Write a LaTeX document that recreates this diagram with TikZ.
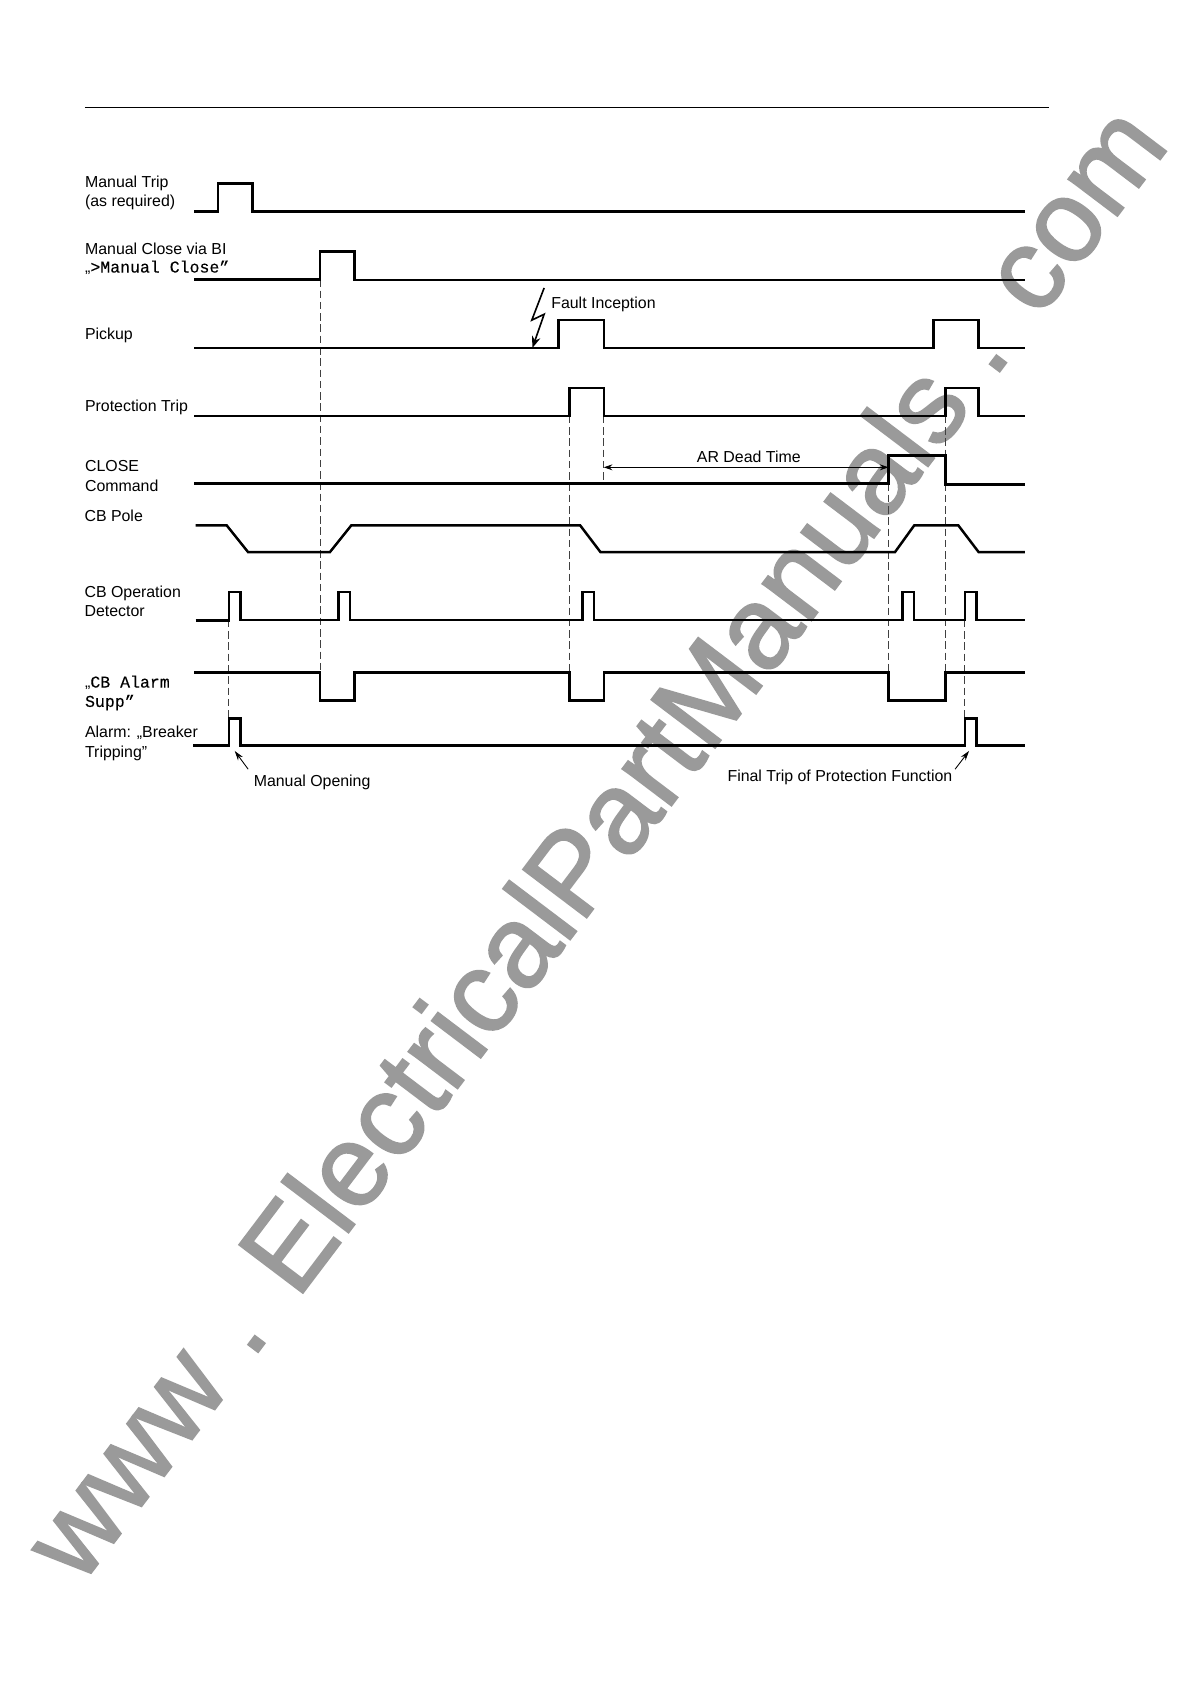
\documentclass[tikz,border=0pt]{standalone}
\usepackage{fontspec}
\setmainfont{Liberation Sans}
\setmonofont[Scale=1.04,FakeBold=0.15]{Liberation Mono}
\newfontfamily\wmfont[FakeBold=1.6]{Liberation Sans}
\usetikzlibrary{arrows.meta}
\definecolor{wmgray}{HTML}{9A9A9A}
\tikzset{
  x=1pt,y=-1pt,
  trace/.style={line width=2.3pt,line join=miter,black},
  guide/.style={line width=0.9pt,dash pattern=on 7pt off 3.5pt,black!75},
  lab/.style={anchor=west,inner sep=0pt,align=left,font=\fontsize{14.8}{18}\selectfont},
  note/.style={inner sep=0pt,font=\fontsize{14.8}{18}\selectfont},
  lead/.style={line width=0.8pt,-{Stealth[length=9pt,width=5.5pt]}},
  span/.style={line width=0.8pt,{Stealth[length=8pt,width=5.5pt]}-{Stealth[length=8pt,width=5.5pt]}},
  watermark/.style={rotate=52.9,anchor=base west,inner sep=0pt,text=wmgray,font=\wmfont\fontsize{108}{108}\selectfont}
}
\begin{document}
\begin{tikzpicture}
\useasboundingbox (0,0) rectangle (1108,1567.5);
\fill[white] (0,0) rectangle (1108,1567.5);
% watermark
\node[watermark] (wm) at (75,1477) {www . ElectricalPartManuals . com};
% rule
\draw[line width=1pt] (79,100) -- (976,100);
% guides
\coordinate (g1a) at (298,260); \coordinate (g1b) at (298,626);
\coordinate (g2a) at (530,387); \coordinate (g2b) at (530,626);
\coordinate (g3a) at (562,387); \coordinate (g3b) at (562,450);
\coordinate (g4a) at (827,450); \coordinate (g4b) at (827,626);
\coordinate (g5a) at (880,387); \coordinate (g5b) at (880,626);
\coordinate (g6a) at (213,577); \coordinate (g6b) at (213,669);
\coordinate (g7a) at (898,577); \coordinate (g7b) at (898,669);
\foreach \n in {1,...,7} \draw[guide] (g\n a) -- (g\n b);
% traces
\draw[trace] (181,197) -- (203,197) -- (203,171) -- (235,171) -- (235,197) -- (954,197);
\draw[trace] (181,260) -- (298,260) -- (298,234) -- (330,234) -- (330,260.5) -- (954,260.5);
\draw[trace] (181,324) -- (520,324) -- (520,298) -- (562,298) -- (562,324) -- (869,324) -- (869,298) -- (911,298) -- (911,324) -- (954,324);
\draw[trace] (181,387) -- (530,387) -- (530,361) -- (562,361) -- (562,387) -- (880,387) -- (880,361) -- (911,361) -- (911,387) -- (954,387);
\draw[trace] (181,450) -- (827,450) -- (827,424) -- (880,424) -- (880,451) -- (954,451);
\draw[trace] (182,489) -- (211,489) -- (231,514) -- (307,514) -- (327,489) -- (540,489) -- (559,514) -- (833,514) -- (851,489) -- (892,489) -- (911,514) -- (954,514);
\draw[trace] (182,577.5) -- (213,577.5) -- (213,551) -- (224,551) -- (224,577) -- (315,577) -- (315,551) -- (326,551) -- (326,577) -- (542,577) -- (542,551) -- (553,551) -- (553,577) -- (840,577) -- (840,551) -- (851,551) -- (851,577) -- (898,577) -- (898,551) -- (909,551) -- (909,577) -- (954,577);
\draw[trace] (181,626) -- (298,626) -- (298,652) -- (330,652) -- (330,626) -- (530,626) -- (530,652) -- (562,652) -- (562,626) -- (827,626) -- (827,652) -- (880,652) -- (880,626) -- (954,626);
\draw[trace] (180,694) -- (213,694) -- (213,669) -- (224,669) -- (224,694) -- (898,694) -- (898,669) -- (909,669) -- (909,694) -- (954,694);
% labels
\node[lab] (l1) at (79,179.5) {Manual Trip\\(as required)};
\node[lab] (l2) at (79,241) {Manual Close via BI\\[-1.5pt]„\texttt{>Manual Close”}};
\node[lab] (l3) at (79,312) {Pickup};
\node[lab] (l4) at (79,379) {Protection Trip};
\node[lab] (l5) at (79,443) {CLOSE\\Command};
\node[lab] (l6) at (78.5,480) {CB Pole};
\node[lab] (l7) at (78.5,559.5) {CB Operation\\Detector};
\node[lab] (l8) at (79,645) {„\texttt{CB Alarm}\\\texttt{Supp”}};
\node[lab] (l9) at (79,692) {Alarm: „Breaker\\Tripping”};
% notes
\node[note,anchor=west] (fault) at (513,283) {Fault Inception};
\node[note] (ar) at (697,425.5) {AR Dead Time};
\node[note,anchor=west] (open) at (236,728) {Manual Opening};
\node[note,anchor=west] (final) at (677,724) {Final Trip of Protection Function};
% lightning
\coordinate (z0) at (506.5,268); \coordinate (z1) at (495,298); \coordinate (z2) at (506.5,292.5); \coordinate (z3) at (495.5,324);
\draw[line width=1.5pt,-{Stealth[length=11pt,width=8pt]}] (z0) -- (z1) -- (z2) -- (z3);
% arrows
\coordinate (d1) at (562,435); \coordinate (d2) at (827,435);
\draw[span] (d1) -- (d2);
\coordinate (a1) at (231,716); \coordinate (a2) at (218.5,699);
\draw[lead] (a1) -- (a2);
\coordinate (b1) at (889,716); \coordinate (b2) at (902,699);
\draw[lead] (b1) -- (b2);
\end{tikzpicture}
\end{document}
